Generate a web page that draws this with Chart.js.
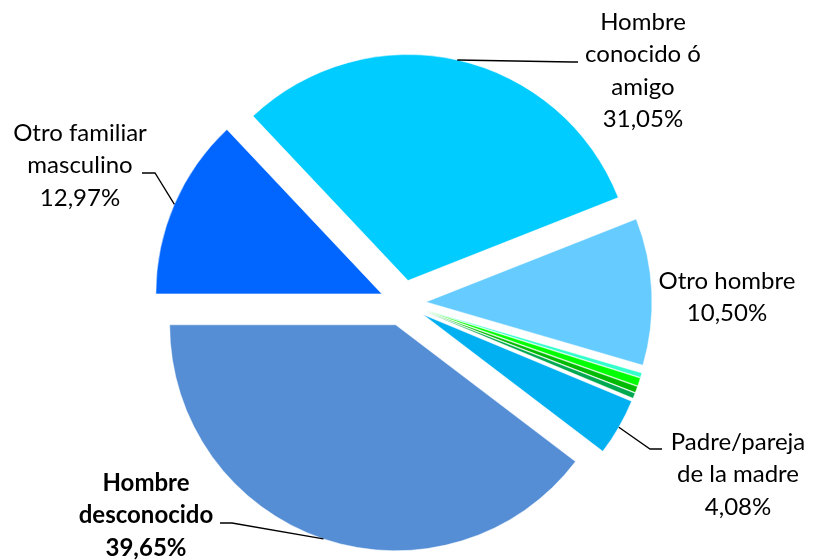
<!DOCTYPE html>
<html>
<head>
<meta charset="utf-8">
<script src="https://cdn.jsdelivr.net/npm/chart.js@4.4.1/dist/chart.umd.min.js"></script>
<style>
  html, body { margin: 0; padding: 0; background: #fff; }
  #wrap { width: 813px; height: 560px; }
</style>
</head>
<body>
<div id="wrap"><canvas id="pie"></canvas></div>
<script>
// slices, clockwise from 9 o'clock
const categories = ['Otro familiar masculino', 'Hombre conocido ó amigo', 'Otro hombre',
    'Otro (a)', 'Otro (b)', 'Otro (c)', 'Otro (d)', 'Padre/pareja de la madre', 'Hombre desconocido'];
const shares = [12.97, 31.05, 10.50, 0.33, 0.58, 0.45, 0.39, 4.08, 39.65];
const colors = ['#0066FF', '#00CCFF', '#66CCFF', '#33FFCC', '#00FF00', '#00BB00', '#00A850', '#00B0F0', '#558ED5'];

// label text lines (percent is appended), null = no label
const labelLines = [
    ['Otro familiar', 'masculino'],
    ['Hombre', 'conocido ó', 'amigo'],
    ['Otro hombre'],
    null, null, null, null,
    ['Padre/pareja', 'de la madre'],
    ['Hombre', 'desconocido']
];

// where each label sits and how its leader line bends
const labelLayout = [
    { x: 80, y: 133, bold: false, elbow: [155, 173], end: 142 },
    { x: 643, y: 22, bold: false, elbow: [572, 62], end: 578 },
    { x: 727, y: 281, bold: false },
    null, null, null, null,
    { x: 738, y: 442, bold: false, elbow: [650, 449], end: 662 },
    { x: 146, y: 483, bold: true, elbow: [232, 523], end: 220 }
];

const explode = 23;
const pieRadius = 226;

const fmt = v => v.toFixed(2).replace('.', ',') + '%';

// push every slice out along its bisector by the same distance
const explodePlugin = {
    id: 'explode',
    afterDatasetsUpdate(chart) {
        chart.getDatasetMeta(0).data.forEach(arc => {
            if (arc._exploded) return;
            arc._exploded = true;
            const base = Object.getPrototypeOf(arc).draw;
            arc.draw = function (ctx) {
                const a = (this.startAngle + this.endAngle) / 2;
                ctx.save();
                ctx.translate(Math.cos(a) * explode, Math.sin(a) * explode);
                base.call(this, ctx);
                ctx.restore();
            };
        });
    }
};

const labelPlugin = {
    id: 'pieLabels',
    afterDatasetsDraw(chart) {
        const ctx = chart.ctx;
        const arcs = chart.getDatasetMeta(0).data;
        ctx.save();
        ctx.textAlign = 'center';
        ctx.textBaseline = 'middle';
        arcs.forEach((arc, i) => {
            const lay = labelLayout[i];
            if (!lay) return;
            const lines = labelLines[i].concat([fmt(shares[i])]);
            ctx.fillStyle = '#000';
            ctx.font = (lay.bold ? 'bold ' : '') + '24px Lato';
            lines.forEach((t, k) => ctx.fillText(t, lay.x, lay.y + k * 32.5));

            if (lay.elbow) {
                const a = (arc.startAngle + arc.endAngle) / 2;
                const r = arc.outerRadius + explode;
                const px = arc.x + Math.cos(a) * r;
                const py = arc.y + Math.sin(a) * r;
                ctx.strokeStyle = '#000';
                ctx.lineWidth = 1.3;
                ctx.beginPath();
                ctx.moveTo(px, py);
                ctx.lineTo(lay.elbow[0], lay.elbow[1]);
                ctx.lineTo(lay.end, lay.elbow[1]);
                ctx.stroke();
            }
        });
        ctx.restore();
    }
};

new Chart(document.getElementById('pie'), {
    type: 'pie',
    data: {
        labels: categories,
        datasets: [{
            data: shares,
            backgroundColor: colors,
            borderColor: '#fff',
            borderWidth: 0.5,
            offset: 0,
            hoverOffset: 0
        }]
    },
    options: {
        responsive: true,
        maintainAspectRatio: false,
        animation: false,
        rotation: -90,
        radius: pieRadius,
        layout: { padding: { left: 0, right: 7, top: 46, bottom: 0 } },
        plugins: {
            legend: { display: false },
            tooltip: { enabled: false }
        },
        events: []
    },
    plugins: [explodePlugin, labelPlugin]
});
</script>
</body>
</html>
